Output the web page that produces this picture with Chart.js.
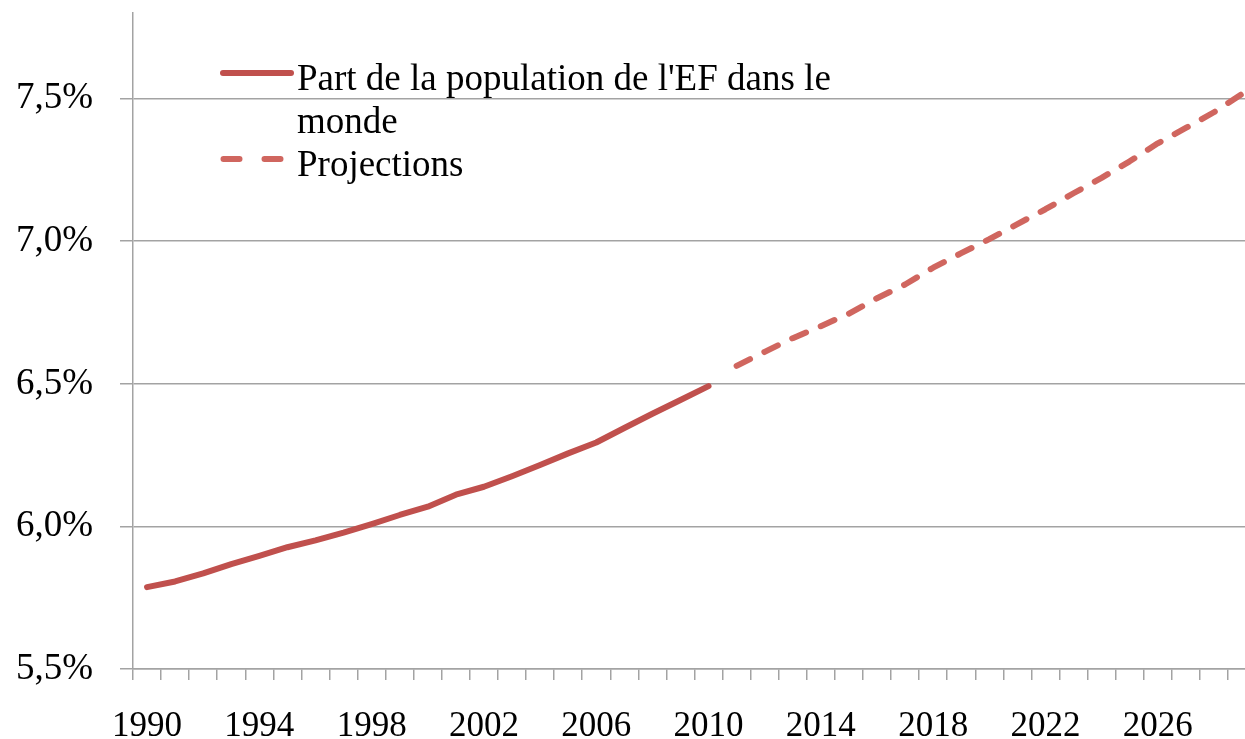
<!DOCTYPE html>
<html>
<head>
<meta charset="utf-8">
<script src="https://cdn.jsdelivr.net/npm/chart.js@4.4.0/dist/chart.umd.min.js"></script>
<style>
  body { margin: 0; overflow: hidden; background: #fff; }
  #wrap { position: relative; width: 1262px; height: 739px; }
  #legend { position: absolute; left: 220px; top: 56px; font: 37px 'Liberation Serif', serif; line-height: 43px; color: #000; }
  #legend .item { display: flex; align-items: flex-start; }
  #legend svg { flex: none; }
</style>
</head>
<body>
<div id="wrap">
  <canvas id="myChart"></canvas>
  <div id="legend"></div>
</div>
<script>
// années 1990 -> 2029
const years = [];
for (let y = 1990; y <= 2029; y++) years.push(String(y));

// part observée 1990-2010 (%)
const observed = [5.787, 5.807, 5.835, 5.868, 5.897, 5.927, 5.951, 5.978, 6.008, 6.040,
                  6.069, 6.111, 6.139, 6.176, 6.215, 6.256, 6.294, 6.345, 6.395, 6.443, 6.492];
// projections 2011-2029 (%)
const projected = [6.563, 6.612, 6.660, 6.702, 6.746, 6.800, 6.848, 6.907, 6.958, 7.007,
                   7.060, 7.112, 7.168, 7.222, 7.280, 7.343, 7.397, 7.452, 7.516];

const seriesNames = ["Part de la population de l'EF dans le<br>monde", "Projections"];
const yTicks = [5.5, 6.0, 6.5, 7.0, 7.5];
const yTickLabels = ['5,5%', '6,0%', '6,5%', '7,0%', '7,5%'];

const solidColor = '#c0504d';
const dashColor = '#d0665f';
const gridColor = '#a3a3a3';

const obsData = years.map((y, i) => i < observed.length ? observed[i] : null);
const projData = years.map((y, i) => i < observed.length ? null : projected[i - observed.length]);

const ctx = document.getElementById('myChart');
new Chart(ctx, {
    type: 'line',
    data: {
        labels: years,
        datasets: [{
            label: 'Part',
            data: obsData,
            borderColor: solidColor,
            borderWidth: 6,
            borderCapStyle: 'round',
            borderJoinStyle: 'round',
            pointRadius: 0,
            spanGaps: false
        }, {
            label: 'Projections',
            data: projData,
            borderColor: dashColor,
            borderWidth: 6,
            borderDash: [15, 16],
            borderCapStyle: 'round',
            borderJoinStyle: 'round',
            pointRadius: 0,
            spanGaps: false
        }]
    },
    options: {
        responsive: true,
        maintainAspectRatio: false,
        animation: false,
        layout: { padding: { left: 0, top: 13, right: 6, bottom: 0 } },
        plugins: { legend: { display: false }, tooltip: { enabled: false } },
        scales: {
            x: {
                offset: true,
                grid: { offset: true, drawOnChartArea: false, tickLength: 11, color: gridColor, lineWidth: 1.5 },
                border: { color: gridColor, width: 1.5 },
                ticks: {
                    autoSkip: false,
                    maxRotation: 0,
                    padding: 26,
                    color: '#000',
                    font: { family: 'Liberation Serif', size: 35 },
                    callback: (v, i) => i % 4 === 0 ? years[i] : ''
                },
                afterFit: s => { s.height = 70; s.paddingLeft = 0; s.paddingRight = 0; }
            },
            y: {
                min: 5.5,
                max: 7.8,
                afterBuildTicks: s => { s.ticks = yTicks.map(v => ({ value: v })); },
                afterFit: s => { s.width = 133; s.paddingTop = 0; s.paddingBottom = 0; },
                grid: { tickLength: 13, color: gridColor, lineWidth: 1.5 },
                border: { color: gridColor, width: 1.5 },
                ticks: {
                    padding: 27,
                    color: '#000',
                    font: { family: 'Liberation Serif', size: 37 },
                    callback: v => yTickLabels[yTicks.indexOf(v)]
                }
            }
        }
    }
});

// légende
const legend = document.getElementById('legend');
legend.innerHTML = `
  <div class="item">
    <svg width="77" height="43"><line x1="3" y1="17" x2="71" y2="17" stroke="${solidColor}" stroke-width="6" stroke-linecap="round"/></svg>
    <span>${seriesNames[0]}</span>
  </div>
  <div class="item">
    <svg width="77" height="43"><line x1="3.5" y1="17" x2="61" y2="17" stroke="${dashColor}" stroke-width="6" stroke-linecap="round" stroke-dasharray="16 25"/></svg>
    <span>${seriesNames[1]}</span>
  </div>`;
</script>
</body>
</html>
